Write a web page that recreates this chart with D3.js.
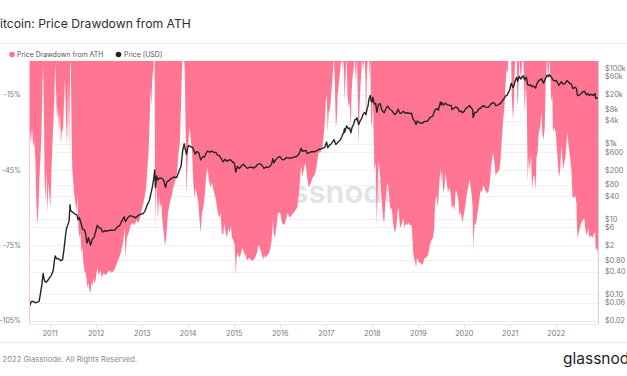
<!DOCTYPE html>
<html>
<head>
<meta charset="utf-8">
<script src="https://cdn.jsdelivr.net/npm/d3@7"></script>
<style>
  body { margin: 0; background: #fff; overflow: hidden; }
  svg { display: block; font-family: Inter, "Open Sans", sans-serif; }
</style>
</head>
<body>
<svg id="chart" width="627" height="376"></svg>
<script>
// drawdown from ATH, %
const drawdown = [
  ["2010-07-17", -45], ["2010-07-25", -30], ["2010-08-02", -34], ["2010-08-10", -28], ["2010-08-20", -36],
  ["2010-08-28", -33], ["2010-09-05", -40], ["2010-09-15", -60], ["2010-09-22", -67], ["2010-09-30", -60],
  ["2010-10-08", -48], ["2010-10-16", -40], ["2010-10-24", -30], ["2010-11-01", -10], ["2010-11-06", -3],
  ["2010-11-12", -20], ["2010-11-18", -48], ["2010-11-24", -58], ["2010-12-02", -45], ["2010-12-10", -62],
  ["2010-12-18", -50], ["2010-12-26", -55], ["2011-01-03", -60], ["2011-01-11", -45], ["2011-01-19", -35],
  ["2011-01-27", -25], ["2011-02-04", -15], ["2011-02-10", -2], ["2011-02-16", -12], ["2011-02-24", -25],
  ["2011-03-04", -20], ["2011-03-12", -30], ["2011-03-20", -22], ["2011-03-28", -35], ["2011-04-05", -28],
  ["2011-04-13", -30], ["2011-04-21", -18], ["2011-04-29", -8], ["2011-05-07", -25], ["2011-05-15", -35],
  ["2011-05-23", -10], ["2011-05-31", -38], ["2011-06-08", -5], ["2011-06-14", -1], ["2011-06-20", -30],
  ["2011-06-26", -45], ["2011-07-04", -50], ["2011-07-12", -55], ["2011-07-20", -58], ["2011-07-28", -62],
  ["2011-08-05", -55], ["2011-08-13", -68], ["2011-08-21", -72], ["2011-08-29", -70], ["2011-09-06", -78],
  ["2011-09-14", -76], ["2011-09-22", -82], ["2011-09-30", -85], ["2011-10-08", -86], ["2011-10-16", -88],
  ["2011-10-24", -92], ["2011-11-01", -90], ["2011-11-09", -93], ["2011-11-17", -94], ["2011-11-25", -90],
  ["2011-12-03", -91], ["2011-12-11", -88], ["2011-12-19", -90], ["2011-12-27", -89], ["2012-01-04", -86],
  ["2012-01-12", -84], ["2012-01-20", -87], ["2012-01-28", -86], ["2012-02-05", -85], ["2012-02-15", -88],
  ["2012-03-01", -86], ["2012-03-15", -87], ["2012-04-01", -86], ["2012-04-15", -85], ["2012-05-01", -86],
  ["2012-05-15", -85.5], ["2012-06-01", -84], ["2012-06-15", -82], ["2012-07-01", -80], ["2012-07-15", -78],
  ["2012-08-01", -74], ["2012-08-16", -68], ["2012-08-20", -80], ["2012-09-01", -72], ["2012-09-15", -70],
  ["2012-10-01", -67], ["2012-10-15", -66], ["2012-11-01", -67], ["2012-11-15", -65], ["2012-12-01", -66],
  ["2012-12-15", -64], ["2013-01-01", -60], ["2013-01-15", -57], ["2013-02-01", -52], ["2013-02-10", -45],
  ["2013-02-20", -38], ["2013-03-01", -25], ["2013-03-08", -12], ["2013-03-15", -20], ["2013-03-22", -5],
  ["2013-03-28", -10], ["2013-04-03", 0], ["2013-04-10", 0], ["2013-04-12", -50], ["2013-04-16", -70],
  ["2013-04-20", -50], ["2013-04-28", -55], ["2013-05-06", -65], ["2013-05-14", -55], ["2013-05-22", -60],
  ["2013-06-01", -58], ["2013-06-10", -65], ["2013-06-20", -70], ["2013-07-01", -75], ["2013-07-08", -73],
  ["2013-07-16", -68], ["2013-07-24", -62], ["2013-08-01", -60], ["2013-08-12", -57], ["2013-08-24", -55],
  ["2013-09-04", -52], ["2013-09-16", -50], ["2013-09-28", -48], ["2013-10-06", -45], ["2013-10-16", -38],
  ["2013-10-26", -35], ["2013-11-04", -20], ["2013-11-12", -5], ["2013-11-20", 0], ["2013-11-30", 0],
  ["2013-12-06", -10], ["2013-12-12", -30], ["2013-12-18", -56], ["2013-12-24", -45], ["2014-01-01", -35],
  ["2014-01-10", -28], ["2014-01-20", -32], ["2014-02-01", -38], ["2014-02-10", -50], ["2014-02-20", -56],
  ["2014-03-01", -52], ["2014-03-12", -55], ["2014-03-22", -58], ["2014-04-01", -65], ["2014-04-10", -70],
  ["2014-04-20", -62], ["2014-05-01", -60], ["2014-05-12", -55], ["2014-05-22", -48], ["2014-06-02", -44],
  ["2014-06-14", -49], ["2014-06-26", -52], ["2014-07-08", -50], ["2014-07-20", -53], ["2014-08-01", -55],
  ["2014-08-12", -58], ["2014-08-24", -62], ["2014-09-05", -64], ["2014-09-15", -62], ["2014-09-25", -70],
  ["2014-10-05", -71], ["2014-10-15", -66], ["2014-10-25", -70], ["2014-11-05", -72], ["2014-11-15", -68],
  ["2014-11-25", -70], ["2014-12-05", -67], ["2014-12-15", -72], ["2014-12-25", -73], ["2015-01-05", -75],
  ["2015-01-14", -87], ["2015-01-20", -80], ["2015-01-30", -78], ["2015-02-10", -80], ["2015-02-20", -79],
  ["2015-03-01", -77], ["2015-03-10", -76], ["2015-03-20", -78], ["2015-04-01", -79], ["2015-04-15", -81],
  ["2015-05-01", -80], ["2015-05-15", -81], ["2015-06-01", -81], ["2015-06-15", -80], ["2015-07-01", -78],
  ["2015-07-12", -75], ["2015-07-24", -76], ["2015-08-05", -78], ["2015-08-18", -81], ["2015-08-26", -79],
  ["2015-09-08", -80], ["2015-09-20", -79], ["2015-10-05", -78], ["2015-10-15", -76], ["2015-10-25", -73],
  ["2015-11-04", -65], ["2015-11-10", -70], ["2015-11-20", -72], ["2015-12-01", -68], ["2015-12-15", -62],
  ["2016-01-01", -62], ["2016-01-15", -66], ["2016-02-01", -67], ["2016-02-15", -65], ["2016-03-01", -62],
  ["2016-03-15", -64], ["2016-04-01", -63], ["2016-04-15", -62], ["2016-05-01", -61], ["2016-05-15", -60],
  ["2016-05-28", -55], ["2016-06-08", -48], ["2016-06-16", -43], ["2016-06-24", -48], ["2016-07-05", -45],
  ["2016-07-20", -42], ["2016-08-02", -48], ["2016-08-15", -52], ["2016-09-01", -50], ["2016-09-15", -48],
  ["2016-10-01", -47], ["2016-10-15", -44], ["2016-11-01", -38], ["2016-11-15", -38], ["2016-12-01", -36],
  ["2016-12-10", -32], ["2016-12-20", -26], ["2016-12-28", -18], ["2017-01-04", -15], ["2017-01-08", -20],
  ["2017-01-12", -30], ["2017-01-20", -22], ["2017-02-01", -20], ["2017-02-10", -14], ["2017-02-20", -8],
  ["2017-02-28", -2], ["2017-03-03", 0], ["2017-03-10", -10], ["2017-03-18", -28], ["2017-03-25", -25],
  ["2017-04-01", -15], ["2017-04-12", -10], ["2017-04-25", -3], ["2017-05-05", 0], ["2017-05-12", -5],
  ["2017-05-20", 0], ["2017-05-26", -18], ["2017-06-05", -5], ["2017-06-12", 0], ["2017-06-18", -15],
  ["2017-06-28", -20], ["2017-07-05", -18], ["2017-07-15", -28], ["2017-07-20", -15], ["2017-07-28", -8],
  ["2017-08-05", -5], ["2017-08-15", 0], ["2017-08-25", -10], ["2017-09-02", 0], ["2017-09-08", -15],
  ["2017-09-15", -35], ["2017-09-22", -20], ["2017-10-01", -10], ["2017-10-12", 0], ["2017-10-20", -5],
  ["2017-11-01", 0], ["2017-11-08", -8], ["2017-11-12", -28], ["2017-11-20", -5], ["2017-11-28", 0],
  ["2017-12-06", 0], ["2017-12-12", -8], ["2017-12-17", 0], ["2017-12-22", -25], ["2017-12-30", -28],
  ["2018-01-06", -15], ["2018-01-12", -30], ["2018-01-18", -45], ["2018-01-28", -42], ["2018-02-06", -67],
  ["2018-02-14", -50], ["2018-02-20", -42], ["2018-03-01", -45], ["2018-03-10", -52], ["2018-03-18", -58],
  ["2018-03-30", -65], ["2018-04-06", -66], ["2018-04-15", -58], ["2018-04-25", -52], ["2018-05-05", -50],
  ["2018-05-15", -55], ["2018-05-25", -61], ["2018-06-05", -60], ["2018-06-15", -66], ["2018-06-28", -70],
  ["2018-07-10", -68], ["2018-07-20", -62], ["2018-07-28", -60], ["2018-08-08", -67], ["2018-08-15", -68],
  ["2018-08-25", -66], ["2018-09-05", -64], ["2018-09-12", -68], ["2018-09-25", -66], ["2018-10-05", -67],
  ["2018-10-15", -66], ["2018-10-28", -67], ["2018-11-08", -67], ["2018-11-16", -72], ["2018-11-22", -78],
  ["2018-11-28", -80], ["2018-12-05", -81], ["2018-12-15", -84], ["2018-12-22", -80], ["2018-12-30", -81],
  ["2019-01-10", -82], ["2019-01-20", -82], ["2019-01-30", -83], ["2019-02-10", -82], ["2019-02-20", -80],
  ["2019-03-05", -80], ["2019-03-20", -79], ["2019-04-02", -75], ["2019-04-15", -73], ["2019-04-28", -72],
  ["2019-05-08", -68], ["2019-05-15", -58], ["2019-05-25", -55], ["2019-06-05", -60], ["2019-06-15", -52],
  ["2019-06-26", -44], ["2019-07-02", -50], ["2019-07-10", -45], ["2019-07-18", -54], ["2019-07-28", -52],
  ["2019-08-06", -46], ["2019-08-15", -50], ["2019-08-25", -54], ["2019-09-05", -52], ["2019-09-15", -54],
  ["2019-09-25", -60], ["2019-10-05", -59], ["2019-10-15", -61], ["2019-10-26", -53], ["2019-11-05", -54],
  ["2019-11-15", -57], ["2019-11-25", -63], ["2019-12-05", -62], ["2019-12-18", -66], ["2019-12-28", -63],
  ["2020-01-08", -60], ["2020-01-20", -55], ["2020-02-01", -52], ["2020-02-12", -49], ["2020-02-22", -52],
  ["2020-03-02", -56], ["2020-03-08", -60], ["2020-03-12", -77], ["2020-03-16", -72], ["2020-03-24", -66],
  ["2020-04-01", -67], ["2020-04-10", -64], ["2020-04-22", -60], ["2020-05-02", -56], ["2020-05-10", -53],
  ["2020-05-20", -54], ["2020-06-01", -51], ["2020-06-15", -53], ["2020-06-28", -54], ["2020-07-10", -54],
  ["2020-07-24", -49], ["2020-08-02", -43], ["2020-08-17", -38], ["2020-08-28", -42], ["2020-09-05", -47],
  ["2020-09-20", -46], ["2020-10-05", -45], ["2020-10-15", -41], ["2020-10-25", -33], ["2020-11-05", -25],
  ["2020-11-15", -20], ["2020-11-25", -10], ["2020-12-01", -5], ["2020-12-10", -6], ["2020-12-16", 0],
  ["2020-12-25", 0], ["2021-01-02", 0], ["2021-01-08", 0], ["2021-01-12", -15], ["2021-01-22", -25],
  ["2021-01-28", -20], ["2021-02-08", 0], ["2021-02-15", 0], ["2021-02-21", 0], ["2021-02-26", -20],
  ["2021-03-05", -15], ["2021-03-13", 0], ["2021-03-20", -5], ["2021-03-28", -10], ["2021-04-04", -2],
  ["2021-04-13", 0], ["2021-04-20", -10], ["2021-04-25", -22], ["2021-05-05", -10], ["2021-05-12", -20],
  ["2021-05-19", -50], ["2021-05-26", -40], ["2021-06-05", -45], ["2021-06-15", -38], ["2021-06-22", -53],
  ["2021-07-01", -48], ["2021-07-10", -47], ["2021-07-20", -53], ["2021-07-28", -40], ["2021-08-05", -38],
  ["2021-08-15", -30], ["2021-08-25", -28], ["2021-09-05", -22], ["2021-09-12", -30], ["2021-09-22", -33],
  ["2021-10-01", -28], ["2021-10-08", -12], ["2021-10-15", -5], ["2021-10-20", 0], ["2021-10-28", -10],
  ["2021-11-08", 0], ["2021-11-15", -8], ["2021-11-22", -18], ["2021-12-01", -15], ["2021-12-05", -30],
  ["2021-12-15", -28], ["2021-12-28", -30], ["2022-01-08", -38], ["2022-01-22", -48], ["2022-02-01", -45],
  ["2022-02-10", -35], ["2022-02-24", -45], ["2022-03-05", -42], ["2022-03-15", -40], ["2022-03-28", -30],
  ["2022-04-08", -35], ["2022-04-20", -40], ["2022-05-01", -45], ["2022-05-10", -56], ["2022-05-20", -56],
  ["2022-05-30", -55], ["2022-06-10", -58], ["2022-06-15", -68], ["2022-06-18", -72], ["2022-06-28", -70],
  ["2022-07-08", -68], ["2022-07-18", -66], ["2022-07-30", -65], ["2022-08-12", -64], ["2022-08-20", -69],
  ["2022-09-01", -71], ["2022-09-12", -68], ["2022-09-20", -72], ["2022-10-01", -71], ["2022-10-15", -72],
  ["2022-10-28", -70], ["2022-11-05", -70], ["2022-11-10", -77], ["2022-11-20", -76], ["2022-11-28", -78]
];

// price, USD
const price = [
  ["2010-07-17", 0.08], ["2010-07-22", 0.05], ["2010-08-05", 0.065], ["2010-08-20", 0.065], ["2010-09-05", 0.06],
  ["2010-09-20", 0.062], ["2010-10-05", 0.065], ["2010-10-15", 0.10], ["2010-10-28", 0.19], ["2010-11-06", 0.36],
  ["2010-11-12", 0.27], ["2010-11-20", 0.22], ["2010-12-01", 0.21], ["2010-12-15", 0.24], ["2010-12-28", 0.28],
  ["2011-01-10", 0.32], ["2011-01-25", 0.42], ["2011-02-05", 0.85], ["2011-02-10", 1.05], ["2011-02-20", 0.88],
  ["2011-03-01", 0.90], ["2011-03-15", 0.85], ["2011-03-28", 0.78], ["2011-04-10", 0.85], ["2011-04-20", 1.5],
  ["2011-05-01", 3.2], ["2011-05-10", 5.5], ["2011-05-20", 6.8], ["2011-05-31", 8.8], ["2011-06-08", 24],
  ["2011-06-12", 17], ["2011-06-20", 16], ["2011-07-01", 15], ["2011-07-15", 13.5], ["2011-08-01", 13],
  ["2011-08-10", 9.5], ["2011-08-20", 11], ["2011-09-01", 8.2], ["2011-09-15", 5.5], ["2011-10-01", 5.1],
  ["2011-10-10", 4.0], ["2011-10-20", 2.3], ["2011-11-01", 3.2], ["2011-11-18", 2.0], ["2011-12-01", 2.9],
  ["2011-12-15", 3.2], ["2012-01-01", 5.2], ["2012-01-10", 6.8], ["2012-01-25", 5.8], ["2012-02-10", 5.6],
  ["2012-02-20", 4.5], ["2012-03-10", 4.9], ["2012-04-01", 4.8], ["2012-04-20", 5.1], ["2012-05-10", 5.0],
  ["2012-06-01", 5.2], ["2012-06-20", 6.4], ["2012-07-05", 6.6], ["2012-07-20", 8.5], ["2012-08-10", 11.5],
  ["2012-08-20", 8.5], ["2012-09-10", 11], ["2012-09-25", 12.3], ["2012-10-15", 11.8], ["2012-11-10", 10.8],
  ["2012-12-01", 12.5], ["2012-12-20", 13.5], ["2013-01-10", 14], ["2013-01-25", 17], ["2013-02-10", 24],
  ["2013-02-25", 30], ["2013-03-10", 46], ["2013-03-25", 78], ["2013-04-05", 140], ["2013-04-10", 200],
  ["2013-04-16", 68], ["2013-04-25", 140], ["2013-05-05", 110], ["2013-05-20", 123], ["2013-06-05", 120],
  ["2013-06-20", 107], ["2013-07-05", 68], ["2013-07-15", 97], ["2013-08-01", 105], ["2013-08-20", 120],
  ["2013-09-10", 130], ["2013-10-01", 125], ["2013-10-20", 185], ["2013-11-05", 250], ["2013-11-18", 650],
  ["2013-11-30", 1000], ["2013-12-07", 750], ["2013-12-18", 520], ["2013-12-26", 740], ["2014-01-05", 900],
  ["2014-01-20", 830], ["2014-02-05", 800], ["2014-02-25", 530], ["2014-03-10", 620], ["2014-03-25", 580],
  ["2014-04-10", 370], ["2014-04-25", 450], ["2014-05-10", 440], ["2014-05-25", 580], ["2014-06-05", 640],
  ["2014-06-20", 590], ["2014-07-05", 630], ["2014-07-25", 590], ["2014-08-10", 580], ["2014-08-20", 500],
  ["2014-09-05", 480], ["2014-09-20", 400], ["2014-10-05", 330], ["2014-10-20", 385], ["2014-11-05", 340],
  ["2014-11-20", 370], ["2014-12-05", 370], ["2014-12-20", 320], ["2015-01-01", 315], ["2015-01-14", 175],
  ["2015-01-25", 250], ["2015-02-10", 220], ["2015-03-01", 260], ["2015-03-15", 285], ["2015-04-01", 245],
  ["2015-04-15", 222], ["2015-05-01", 235], ["2015-05-20", 238], ["2015-06-05", 225], ["2015-06-20", 245],
  ["2015-07-10", 290], ["2015-07-25", 290], ["2015-08-10", 265], ["2015-08-25", 220], ["2015-09-10", 240],
  ["2015-09-25", 235], ["2015-10-10", 245], ["2015-10-25", 290], ["2015-11-04", 400], ["2015-11-12", 310],
  ["2015-11-25", 365], ["2015-12-10", 420], ["2015-12-25", 450], ["2016-01-05", 430], ["2016-01-15", 380],
  ["2016-02-01", 375], ["2016-02-20", 430], ["2016-03-10", 415], ["2016-04-01", 418], ["2016-04-20", 440],
  ["2016-05-10", 455], ["2016-05-28", 520], ["2016-06-16", 760], ["2016-06-25", 630], ["2016-07-10", 650],
  ["2016-07-25", 655], ["2016-08-02", 545], ["2016-08-20", 580], ["2016-09-10", 620], ["2016-09-30", 610],
  ["2016-10-15", 640], ["2016-10-30", 700], ["2016-11-15", 710], ["2016-12-01", 750], ["2016-12-20", 800],
  ["2017-01-04", 1100], ["2017-01-12", 780], ["2017-01-25", 900], ["2017-02-10", 1000], ["2017-02-25", 1180],
  ["2017-03-03", 1280], ["2017-03-18", 950], ["2017-04-01", 1080], ["2017-04-20", 1230], ["2017-05-05", 1550],
  ["2017-05-20", 2050], ["2017-05-25", 2500], ["2017-05-27", 2000], ["2017-06-11", 2950], ["2017-06-25", 2500],
  ["2017-07-05", 2600], ["2017-07-15", 1930], ["2017-07-25", 2750], ["2017-08-05", 3200], ["2017-08-16", 4300],
  ["2017-08-25", 4350], ["2017-09-01", 4900], ["2017-09-15", 3200], ["2017-09-25", 3900], ["2017-10-10", 4800],
  ["2017-10-20", 6000], ["2017-11-01", 6700], ["2017-11-12", 5900], ["2017-11-20", 8200], ["2017-11-28", 9900],
  ["2017-12-07", 16000], ["2017-12-12", 17000], ["2017-12-17", 19000], ["2017-12-22", 13800], ["2017-12-30", 12600],
  ["2018-01-06", 17000], ["2018-01-17", 11200], ["2018-01-28", 11700], ["2018-02-06", 6900], ["2018-02-20", 11200],
  ["2018-03-05", 11500], ["2018-03-18", 7800], ["2018-04-06", 6600], ["2018-04-25", 9300], ["2018-05-05", 9800],
  ["2018-05-20", 8200], ["2018-06-05", 7600], ["2018-06-28", 5900], ["2018-07-10", 6300], ["2018-07-25", 8200],
  ["2018-08-10", 6300], ["2018-08-25", 6700], ["2018-09-05", 7300], ["2018-09-20", 6400], ["2018-10-10", 6600],
  ["2018-10-30", 6300], ["2018-11-10", 6400], ["2018-11-20", 4500], ["2018-12-05", 3900], ["2018-12-15", 3200],
  ["2018-12-24", 4000], ["2019-01-10", 3600], ["2019-01-30", 3450], ["2019-02-20", 3900], ["2019-03-15", 3900],
  ["2019-04-05", 5000], ["2019-04-25", 5300], ["2019-05-14", 7900], ["2019-05-30", 8600], ["2019-06-10", 7700],
  ["2019-06-26", 12900], ["2019-07-02", 10600], ["2019-07-10", 12300], ["2019-07-20", 10600], ["2019-08-06", 11900],
  ["2019-08-20", 10700], ["2019-09-05", 10500], ["2019-09-20", 10200], ["2019-09-26", 8000], ["2019-10-10", 8600],
  ["2019-10-26", 9500], ["2019-11-10", 8800], ["2019-11-25", 7100], ["2019-12-10", 7300], ["2019-12-18", 6600],
  ["2020-01-01", 7200], ["2020-01-15", 8800], ["2020-02-01", 9400], ["2020-02-12", 10300], ["2020-02-28", 8700],
  ["2020-03-08", 8000], ["2020-03-12", 4900], ["2020-03-25", 6700], ["2020-04-10", 6900], ["2020-04-30", 8600],
  ["2020-05-10", 8700], ["2020-05-20", 9500], ["2020-06-01", 10200], ["2020-06-20", 9300], ["2020-07-10", 9200],
  ["2020-07-28", 11000], ["2020-08-17", 12300], ["2020-08-30", 11700], ["2020-09-08", 10100], ["2020-09-25", 10700],
  ["2020-10-10", 11300], ["2020-10-25", 13000], ["2020-11-10", 15300], ["2020-11-25", 18500], ["2020-12-05", 19100],
  ["2020-12-17", 23000], ["2020-12-28", 27000], ["2021-01-08", 40500], ["2021-01-22", 30800], ["2021-01-28", 33000],
  ["2021-02-08", 46000], ["2021-02-21", 57500], ["2021-02-28", 45000], ["2021-03-13", 61000], ["2021-03-25", 52000],
  ["2021-04-13", 63500], ["2021-04-25", 49000], ["2021-05-08", 58000], ["2021-05-19", 37000], ["2021-05-30", 35000],
  ["2021-06-10", 36500], ["2021-06-22", 32500], ["2021-07-05", 34000], ["2021-07-20", 29800], ["2021-08-01", 39800],
  ["2021-08-15", 47000], ["2021-09-06", 52500], ["2021-09-21", 40500], ["2021-10-01", 48000], ["2021-10-20", 66000],
  ["2021-11-01", 61000], ["2021-11-08", 67500], ["2021-11-25", 57000], ["2021-12-05", 49000], ["2021-12-20", 46500],
  ["2022-01-01", 47500], ["2022-01-22", 35000], ["2022-02-10", 44000], ["2022-02-24", 38000], ["2022-03-10", 39000],
  ["2022-03-28", 47400], ["2022-04-15", 40500], ["2022-05-01", 38000], ["2022-05-12", 29000], ["2022-05-30", 31500],
  ["2022-06-10", 29000], ["2022-06-18", 19000], ["2022-07-01", 19300], ["2022-07-15", 20800], ["2022-07-30", 23800],
  ["2022-08-14", 24400], ["2022-08-28", 19600], ["2022-09-10", 21600], ["2022-09-20", 18900], ["2022-10-05", 20300],
  ["2022-10-20", 19100], ["2022-11-05", 21300], ["2022-11-10", 16000], ["2022-11-20", 16300], ["2022-11-28", 16200]
];

const ddTicks = [-15, -45, -75, -105];
const priceTicks = [100000, 60000, 20000, 8000, 4000, 1000, 600, 200, 80, 40, 10, 6, 2, 0.8, 0.4, 0.1, 0.06, 0.02];
const priceTickLabels = ["$100k", "$60k", "$20k", "$8k", "$4k", "$1k", "$600", "$200", "$80", "$40",
  "$10", "$6", "$2", "$0.80", "$0.40", "$0.10", "$0.06", "$0.02"];
const years = d3.range(2011, 2023);

const parse = d3.timeParse("%Y-%m-%d");
const ddData = drawdown.map(([d, v]) => ({ date: parse(d), value: v }));
const priceData = price.map(([d, v]) => ({ date: parse(d), value: v }));

const svg = d3.select("#chart");
const plotLeft = 29, plotRight = 598, plotTop = 61, plotBottom = 324;

const x = d3.scaleTime()
  .domain(d3.extent(ddData, (d) => d.date))
  .range([plotLeft, plotRight]);
const yDD = d3.scaleLinear().domain([-106.4, -1.5]).range([plotBottom, plotTop]);
const yPrice = d3.scaleLog().domain([0.01636, 156300]).range([plotBottom, plotTop]);

// title + legend (the page is cropped on the left, like the source)
svg.append("text")
  .attr("x", -8)
  .attr("y", 28)
  .attr("font-size", 12.2)
  .attr("fill", "#2e2e2e")
  .text("Bitcoin: Price Drawdown from ATH");

svg.append("line")
  .attr("x1", 0).attr("x2", 627)
  .attr("y1", 43.5).attr("y2", 43.5)
  .style("stroke", "#ececec");

const legend = svg.append("g").attr("font-size", 6.9).attr("fill", "#555");
legend.append("circle").attr("cx", 12).attr("cy", 54.5).attr("r", 2.8).attr("fill", "#ff7592");
legend.append("text").attr("x", 17).attr("y", 57).text("Price Drawdown from ATH");
legend.append("circle").attr("cx", 118.5).attr("cy", 54.5).attr("r", 2.8).attr("fill", "#222");
legend.append("text").attr("x", 124).attr("y", 57).text("Price [USD]");

svg.append("defs")
  .append("clipPath")
  .attr("id", "plot-clip")
  .append("rect")
  .attr("x", plotLeft).attr("y", plotTop)
  .attr("width", plotRight - plotLeft).attr("height", plotBottom - plotTop);

// grid
svg.append("g")
  .selectAll("line")
  .data(priceTicks)
  .enter()
  .append("line")
  .attr("x1", plotLeft).attr("x2", plotRight)
  .attr("y1", (d) => Math.round(yPrice(d)) + 0.5)
  .attr("y2", (d) => Math.round(yPrice(d)) + 0.5)
  .style("stroke", "#f1f1f1");

// watermark
svg.append("text")
  .attr("x", (plotLeft + plotRight) / 2 + 10)
  .attr("y", 203)
  .attr("text-anchor", "middle")
  .attr("font-size", 31)
  .attr("font-weight", 600)
  .attr("fill", "#e3e3e3")
  .text("glassnode");

const plot = svg.append("g").attr("clip-path", "url(#plot-clip)");

const area = d3.area()
  .x((d) => x(d.date))
  .y0(plotTop)
  .y1((d) => yDD(d.value));

plot.append("path")
  .datum(ddData)
  .attr("d", area)
  .attr("fill", "#ff7592");

const line = d3.line()
  .x((d) => x(d.date))
  .y((d) => yPrice(d.value));

plot.append("path")
  .datum(priceData)
  .attr("d", line)
  .attr("fill", "none")
  .style("stroke", "#262626")
  .style("stroke-width", 1.4)
  .style("stroke-linejoin", "round");

// axes
svg.append("line")
  .attr("x1", plotLeft + 0.5).attr("x2", plotLeft + 0.5)
  .attr("y1", plotTop).attr("y2", plotBottom)
  .style("stroke", "#ffc6d1");
svg.append("line")
  .attr("x1", plotRight + 0.5).attr("x2", plotRight + 0.5)
  .attr("y1", plotTop).attr("y2", plotBottom)
  .style("stroke", "#d0d0d0");
svg.append("line")
  .attr("x1", plotLeft).attr("x2", plotRight)
  .attr("y1", plotBottom + 0.5).attr("y2", plotBottom + 0.5)
  .style("stroke", "#e8e8e8");

svg.append("g")
  .attr("font-size", 7)
  .attr("fill", "#777")
  .attr("text-anchor", "end")
  .selectAll("text")
  .data(ddTicks)
  .enter()
  .append("text")
  .attr("x", 21)
  .attr("y", (d) => yDD(d) + 2.5)
  .text((d) => d + "%");

svg.append("g")
  .attr("font-size", 7.3)
  .attr("fill", "#777")
  .selectAll("text")
  .data(priceTicks)
  .enter()
  .append("text")
  .attr("x", 605)
  .attr("y", (d) => yPrice(d) + 2.5)
  .text((d, i) => priceTickLabels[i]);

const xAxis = svg.append("g");
xAxis.selectAll("line")
  .data(years)
  .enter()
  .append("line")
  .attr("x1", (d) => Math.round(x(new Date(d, 0, 1))) + 0.5)
  .attr("x2", (d) => Math.round(x(new Date(d, 0, 1))) + 0.5)
  .attr("y1", plotBottom).attr("y2", plotBottom + 4)
  .style("stroke", "#e3e3e3");
xAxis.selectAll("text")
  .data(years)
  .enter()
  .append("text")
  .attr("x", (d) => x(new Date(d, 0, 1)))
  .attr("y", 335.5)
  .attr("text-anchor", "middle")
  .attr("font-size", 7.3)
  .attr("fill", "#777")
  .text((d) => d);

// footer
svg.append("line")
  .attr("x1", 0).attr("x2", 627)
  .attr("y1", 342.5).attr("y2", 342.5)
  .style("stroke", "#ececec");

svg.append("text")
  .attr("x", -6.5)
  .attr("y", 362)
  .attr("font-size", 7.6)
  .attr("fill", "#8a8a8a")
  .text("© 2022 Glassnode. All Rights Reserved.");

svg.append("text")
  .attr("x", 563)
  .attr("y", 364)
  .attr("font-size", 15.5)
  .attr("fill", "#1e1e1e")
  .text("glassnode");
</script>
</body>
</html>
